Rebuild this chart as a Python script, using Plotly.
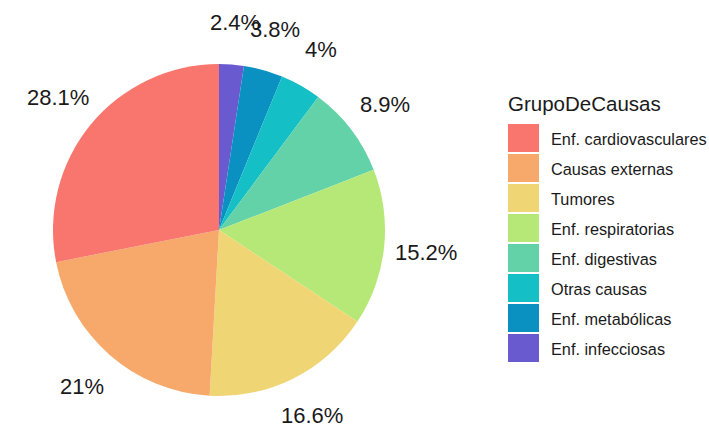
import math
import plotly.graph_objects as go

# Distribution of deaths by cause group (%)
causas = [
    "Enf. cardiovasculares",
    "Causas externas",
    "Tumores",
    "Enf. respiratorias",
    "Enf. digestivas",
    "Otras causas",
    "Enf. metabólicas",
    "Enf. infecciosas",
]
porcentajes = [28.1, 21, 16.6, 15.2, 8.9, 4, 3.8, 2.4]
etiquetas = ["28.1%", "21%", "16.6%", "15.2%", "8.9%", "4%", "3.8%", "2.4%"]
colores = ["#F8766D", "#F6A96B", "#F0D575", "#B6E877", "#64D2A8",
           "#14BFC6", "#0A91C1", "#6A5ACF"]

W, H = 709, 426
cx, cy, R = 219, 230, 166          # pie centre and radius in pixels
label_r = 208                      # radius where the percentage labels sit

# slices run counterclockwise from 12 o'clock starting with the first group;
# drawn clockwise with the order reversed
fig = go.Figure()
fig.add_trace(go.Pie(
    labels=causas[::-1],
    values=porcentajes[::-1],
    marker=dict(colors=colores[::-1], line=dict(width=0)),
    sort=False,
    direction="clockwise",
    rotation=0,
    textinfo="none",
    hoverinfo="label+percent",
    showlegend=False,
    domain=dict(x=[(cx - R) / W, (cx + R) / W],
                y=[(H - cy - R) / H, (H - cy + R) / H]),
))

font_txt = "Liberation Sans, Arial, sans-serif"
annotations = []

# percentage labels placed around the pie at each slice's mid-angle
total = sum(porcentajes)
acc = 0.0
for v, lab in zip(porcentajes, etiquetas):
    mid = (acc + v / 2) / total * 2 * math.pi
    acc += v
    px = cx - label_r * math.sin(mid)
    py = cy - label_r * math.cos(mid)
    annotations.append(dict(
        x=px / W, y=1 - py / H, xref="paper", yref="paper",
        text=lab, showarrow=False, xanchor="center", yanchor="middle",
        font=dict(family=font_txt, size=22, color="#1a1a1a"),
    ))

# legend: title, colour keys and labels
annotations.append(dict(
    x=506 / W, y=1 - 103 / H, xref="paper", yref="paper",
    text="GrupoDeCausas", showarrow=False, xanchor="left", yanchor="middle",
    font=dict(family=font_txt, size=20.5, color="#1a1a1a"),
))
shapes = []
for i, (c, col) in enumerate(zip(causas, colores)):
    top = 124 + 30 * i
    shapes.append(dict(
        type="rect", xref="paper", yref="paper",
        x0=508 / W, x1=539 / W, y0=1 - (top + 28) / H, y1=1 - top / H,
        fillcolor=col, line=dict(width=0),
    ))
    annotations.append(dict(
        x=549 / W, y=1 - (top + 15) / H, xref="paper", yref="paper",
        text=c, showarrow=False, xanchor="left", yanchor="middle",
        font=dict(family=font_txt, size=16.3, color="#1a1a1a"),
    ))

fig.update_layout(
    width=W, height=H,
    margin=dict(l=0, r=0, t=0, b=0),
    paper_bgcolor="white", plot_bgcolor="white",
    annotations=annotations, shapes=shapes,
)

fig.write_html("out.html")
